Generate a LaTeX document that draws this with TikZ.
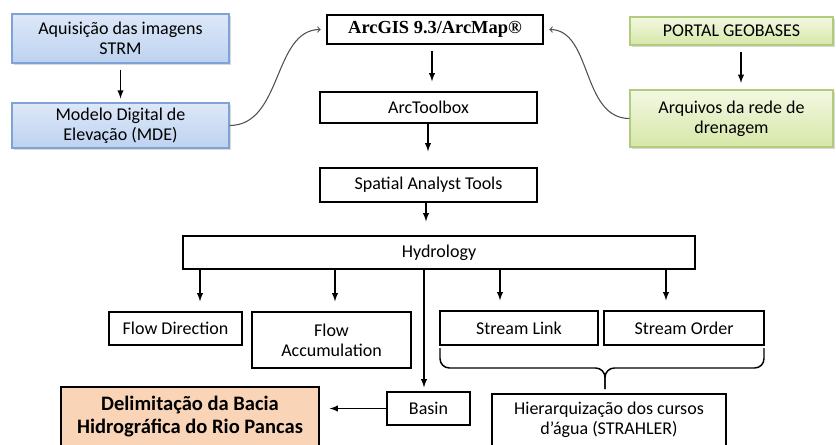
\documentclass[tikz,border=0pt]{standalone}
\usepackage{fontspec}
\setmainfont{Carlito}
\newfontfamily\timesfont{Liberation Serif}
\usepackage{tikz}
\usetikzlibrary{shapes,shadows,arrows}

\definecolor{sattop}{HTML}{DDE8F8}
\definecolor{satbot}{HTML}{BDD2F0}
\definecolor{satline}{HTML}{7FA3D6}
\definecolor{geotop}{HTML}{F3F8E2}
\definecolor{geobot}{HTML}{D6E7A8}
\definecolor{geoline}{HTML}{B3CB7E}
\definecolor{basinfill}{HTML}{FAD4B6}
\definecolor{curvegray}{HTML}{505050}

\begin{document}
\begin{tikzpicture}[x=0.75pt,y=-0.75pt]
      \tikzstyle{every node}=[font=\fontsize{13.5}{15}\selectfont,align=center,inner sep=0pt]
      \tikzstyle{plain}=[rectangle,draw,line width=1.1pt]
      \tikzstyle{sat}=[rectangle,draw=satline,line width=0.8pt,top color=sattop,bottom color=satbot,
        drop shadow={shadow xshift=1.2pt,shadow yshift=-1.2pt,opacity=0.3}]
      \tikzstyle{geo}=[rectangle,draw=geoline,line width=0.8pt,top color=geotop,bottom color=geobot,
        drop shadow={shadow xshift=1.2pt,shadow yshift=-1.2pt,opacity=0.3}]
      \tikzstyle{result}=[rectangle,draw,line width=1.1pt,fill=basinfill,font=\fontsize{15.4}{17.3}\selectfont\bfseries]
      \tikzstyle{flow}=[->,>=latex,line width=1.1pt]
      \tikzstyle{link}=[->,>=to,curvegray,line width=0.8pt]
      \useasboundingbox (0,0) rectangle (836,444);

      \node[sat,minimum width=162.75pt,minimum height=36.75pt] (strm) at (120.5,38.5) {Aquisição das imagens\\STRM};
      \node[sat,minimum width=162.75pt,minimum height=33.75pt] (mde) at (120.5,125.5) {Modelo Digital de\\Elevação (MDE)};
      \node[plain,line width=1.5pt,minimum width=162pt,minimum height=21.75pt,font=\fontsize{13.8}{15}\selectfont\timesfont\bfseries] (arcgis) at (435,29.5) {ArcGIS 9.3/ArcMap®};
      \node[geo,minimum width=152.25pt,minimum height=21pt] (portal) at (731.5,31) {PORTAL GEOBASES};
      \node[geo,minimum width=152.25pt,minimum height=42.75pt] (rede) at (731.5,118.5) {Arquivos da rede de\\drenagem};
      \node[plain,minimum width=162.75pt,minimum height=23.25pt] (toolbox) at (428.5,107.5) {ArcToolbox};
      \node[plain,minimum width=162.75pt,minimum height=25.5pt] (spatial) at (428.5,185) {Spatial Analyst Tools};
      \node[plain,minimum width=384pt,minimum height=24.75pt] (hydro) at (439,252.5) {Hydrology};
      \node[plain,minimum width=99.75pt,minimum height=24.75pt] (flowdir) at (175.5,328.5) {Flow Direction};
      \node[plain,minimum width=119.25pt,minimum height=42pt] (flowacc) at (331.5,340) {Flow\\Accumulation};
      \node[plain,minimum width=118.5pt,minimum height=25.5pt] (slink) at (519,328) {Stream Link};
      \node[plain,minimum width=120pt,minimum height=25.5pt] (sorder) at (684,328) {Stream Order};
      \node[plain,minimum width=62.25pt,minimum height=24.75pt] (basin) at (428.5,408.5) {Basin};
      \node[plain,minimum width=175.5pt,minimum height=39pt] (strahler) at (609,420) {Hierarquização dos cursos\\d’água (STRAHLER)};
      \node[result,minimum width=193.5pt,minimum height=44.25pt] (bacia) at (190,416.5) {Delimitação da Bacia\\Hidrográfica do Rio Pancas};

      \draw[flow,shorten <=4.5pt,shorten >=3pt] (strm) -- (mde);
      \draw[flow,shorten <=4.5pt,shorten >=5pt] (portal.south -| 741,0) -- (rede.north -| 741,0);
      \draw[flow,shorten <=4.5pt,shorten >=7.5pt] (arcgis.south -| 432,0) -- (toolbox.north -| 432,0);
      \draw[flow,shorten >=12pt] (toolbox.south -| 428,0) -- (spatial.north -| 428,0);
      \draw[flow,shorten >=10.5pt] (spatial.south -| 426,0) -- (hydro.north -| 426,0);
      \foreach \px/\tgt in {200/flowdir,335/flowacc,500/slink,666/sorder}
        \draw[flow,shorten >=7.5pt] (hydro.south -| \px,0) -- (\tgt.north -| \px,0);
      \draw[flow,shorten >=3pt] (hydro.south -| 424,0) -- (basin.north -| 424,0);
      \draw[flow,shorten >=7.5pt] (basin.west) -- (bacia.east |- basin.west);

      \draw[link,shorten >=4pt] (mde.east) to[out=0,in=180] (arcgis.west);
      \draw[link,shorten >=4pt] (rede.west) to[out=180,in=0] (arcgis.east);

      \draw[line width=1.1pt,rounded corners=7pt] (440,348) -- (440,368) -- (605,368) -- (605,389);
      \draw[line width=1.1pt,rounded corners=7pt] (764,348) -- (764,368) -- (605,368) -- (605,389);
\end{tikzpicture}
\end{document}
